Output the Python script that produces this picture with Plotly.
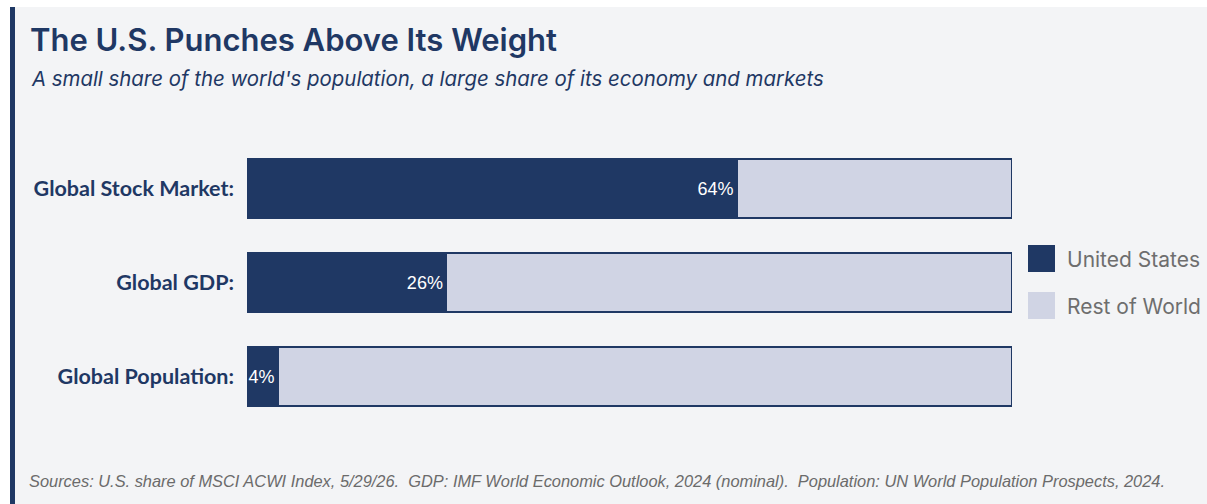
import plotly.graph_objects as go

categories = ["Global Stock Market:", "Global GDP:", "Global Population:"]
us_share = [64, 26, 4]
rest_share = [36, 74, 96]
series_names = ["United States", "Rest of World"]

NAVY = "#1f3864"
LIGHT = "#d0d4e4"
PANEL = "#f3f4f6"
W, H = 1207, 504

def px_x(p):
    return p / W

def px_y(p):
    return 1 - p / H

fig = go.Figure()
fig.add_trace(go.Bar(
    y=categories, x=us_share, orientation="h", name=series_names[0],
    marker=dict(color=NAVY, line=dict(color=NAVY, width=2)),
    width=0.63,
    text=[f"{v}%" for v in us_share], textposition="inside", textangle=0,
    insidetextanchor="end", constraintext="none",
    insidetextfont=dict(color="white", size=18, family="Liberation Sans"),
    showlegend=False, hoverinfo="skip",
))
fig.add_trace(go.Bar(
    y=categories, x=rest_share, orientation="h", name=series_names[1],
    marker=dict(color=LIGHT, line=dict(color=NAVY, width=2)),
    width=0.63, showlegend=False, hoverinfo="skip",
))

shapes = [
    dict(type="rect", xref="paper", yref="paper", x0=px_x(10), x1=1, y0=0, y1=px_y(7),
         fillcolor=PANEL, line=dict(width=0), layer="below"),
    dict(type="rect", xref="paper", yref="paper", x0=px_x(10), x1=px_x(15), y0=0, y1=px_y(7),
         fillcolor=NAVY, line=dict(width=0), layer="below"),
]
legend_colors = [NAVY, LIGHT]
legend_tops = [245, 292]
annotations = []
for name, col, top in zip(series_names, legend_colors, legend_tops):
    shapes.append(dict(type="rect", xref="paper", yref="paper",
                       x0=px_x(1028), x1=px_x(1055), y0=px_y(top + 27), y1=px_y(top),
                       fillcolor=col, line=dict(width=0)))
    annotations.append(dict(xref="paper", yref="paper", x=px_x(1065), y=px_y(top + 14),
                            xanchor="left", yanchor="middle", showarrow=False, text=name,
                            font=dict(family="Inter", size=21, color="#6e6e6e")))

annotations += [
    dict(xref="paper", yref="paper", x=px_x(28), y=px_y(40), xanchor="left", yanchor="middle",
         showarrow=False, text="The U.S. Punches Above Its Weight",
         font=dict(family="Inter", size=31, color=NAVY, weight=600)),
    dict(xref="paper", yref="paper", x=px_x(29), y=px_y(78), xanchor="left", yanchor="middle",
         showarrow=False, text="A small share of the world's population, a large share of its economy and markets",
         font=dict(family="Inter", size=20.4, color=NAVY, style="italic")),
    dict(xref="paper", yref="paper", x=px_x(27), y=px_y(481), xanchor="left", yanchor="middle",
         showarrow=False,
         text="Sources: U.S. share of MSCI ACWI Index, 5/29/26.&nbsp; GDP: IMF World Economic Outlook, 2024 (nominal).&nbsp; Population: UN World Population Prospects, 2024.",
         font=dict(family="Liberation Sans", size=16.4, color="#6b6b6b", style="italic")),
]

fig.update_layout(
    width=W, height=H, barmode="stack",
    margin=dict(l=0, r=0, t=0, b=0),
    paper_bgcolor="white", plot_bgcolor="rgba(0,0,0,0)",
    shapes=shapes, annotations=annotations,
    xaxis=dict(domain=[px_x(247), px_x(1012)], range=[0, 100], visible=False, fixedrange=True),
    yaxis=dict(domain=[(H - 423.5) / H, (H - 141.5) / H], range=[2.5, -0.5],
               categoryorder="array", categoryarray=categories,
               showgrid=False, zeroline=False, showline=False, ticks="",
               ticklabelstandoff=12,
               tickfont=dict(family="Lato", size=21.5, color=NAVY, weight="bold")),
    bargap=0.37,
)

fig.write_html("out.html", config={"displayModeBar": False})
